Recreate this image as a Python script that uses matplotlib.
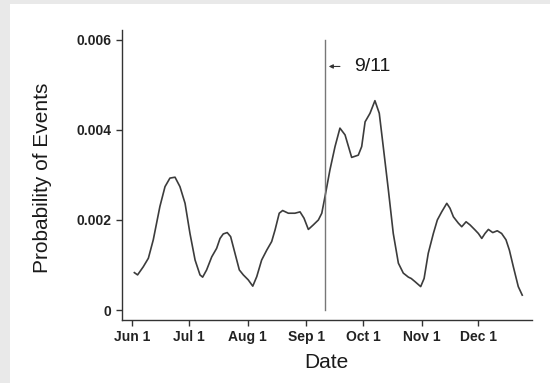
import matplotlib
matplotlib.use("Agg")
import matplotlib.pyplot as plt
from matplotlib.patches import Rectangle

plt.rcParams['font.family'] = ['Liberation Sans', 'DejaVu Sans']

# Days since June 1 (2001)
days = [1.1, 2.8, 5.8, 8.5, 11.1, 14.6, 17.3, 19.9, 22.6, 25.2, 27.9, 30.5, 33.2, 35.8,
        37.2, 39.3, 42.0, 44.6, 46.4, 48.1, 50.2, 52.0, 54.3, 56.6, 58.7, 61.3, 63.7,
        65.8, 68.4, 71.1, 73.7, 75.5, 77.7, 79.5, 82.5, 86.0, 88.7, 90.8, 93.1, 95.7,
        98.4, 100.2, 101.9, 104.5, 107.2, 109.8, 112.5, 116.0, 119.5, 121.3, 123.1,
        125.7, 128.3, 130.6, 132.7, 135.4, 138.0, 140.7, 143.3, 146.0, 147.5, 149.5,
        152.5, 154.3, 156.5, 159.2, 161.3, 163.6, 166.3, 168.0, 169.8, 172.4, 174.2,
        176.5, 178.6, 181.2, 183.0, 184.8, 186.5, 188.3, 190.6, 193.0, 195.3, 197.6,
        199.4, 201.5, 204.1, 206.2]
prob = [0.00083, 0.00078, 0.00096, 0.00115, 0.00156, 0.00230, 0.00274, 0.00293, 0.00295,
        0.00274, 0.00237, 0.00170, 0.00111, 0.00078, 0.00073, 0.00089, 0.00118, 0.00137,
        0.00159, 0.00169, 0.00172, 0.00163, 0.00126, 0.00089, 0.00078, 0.00067, 0.00053,
        0.00074, 0.00111, 0.00133, 0.00152, 0.00178, 0.00215, 0.00221, 0.00215, 0.00215,
        0.00218, 0.00204, 0.00179, 0.00189, 0.00200, 0.00215, 0.00252, 0.00311, 0.00363,
        0.00404, 0.00389, 0.00339, 0.00344, 0.00363, 0.00418, 0.00437, 0.00465, 0.00437,
        0.00363, 0.00267, 0.00170, 0.00104, 0.00082, 0.00073, 0.00070, 0.00063, 0.00052,
        0.00070, 0.00126, 0.00170, 0.00200, 0.00218, 0.00237, 0.00226, 0.00207, 0.00193,
        0.00185, 0.00196, 0.00189, 0.00178, 0.00170, 0.00159, 0.00170, 0.00179, 0.00172,
        0.00176, 0.00170, 0.00156, 0.00133, 0.00096, 0.00052, 0.00033]

month_ticks = [0, 30, 61, 92, 122, 153, 183]
month_labels = ["Jun 1", "Jul 1", "Aug 1", "Sep 1", "Oct 1", "Nov 1", "Dec 1"]
y_ticks = [0, 0.002, 0.004, 0.006]
y_labels = ["0", "0.002", "0.004", "0.006"]
event_day = 102
event_label = "9/11"

fig = plt.figure(figsize=(5.5, 3.83), dpi=100)
fig.patch.set_facecolor('#e9e9e9')
fig.add_artist(Rectangle((10/550, 0), 1, 1 - 4/383, transform=fig.transFigure,
                         facecolor='white', edgecolor='none', zorder=-10))

ax = fig.add_axes([121.7/550, 1 - 320/383, 410/550, 290/383])
ax.patch.set_alpha(0)

ax.plot(days, prob, color='#3c3c3c', lw=1.2, solid_joinstyle='round')
ax.plot([event_day, event_day], [0, 0.006], color='#777777', lw=1.0)

ax.annotate('', xy=(103.9, 0.00541), xytext=(109.8, 0.00541),
            arrowprops=dict(arrowstyle='-|>', lw=0.8, color='#333333',
                            mutation_scale=6, shrinkA=0, shrinkB=0))
ax.text(117.2, 0.00541, event_label, ha='left', va='center', fontsize=14, color='#1a1a1a')

ax.set_xlim(-5.6, 211.2)
ax.set_ylim(-0.000222, 0.00622)
ax.set_xticks(month_ticks)
ax.set_xticklabels(month_labels, fontsize=10, fontweight='bold')
ax.set_yticks(y_ticks)
ax.set_yticklabels(y_labels, fontsize=10, fontweight='bold')
for s in ['top', 'right']:
    ax.spines[s].set_visible(False)
for s in ['left', 'bottom']:
    ax.spines[s].set_color('#333333')
    ax.spines[s].set_linewidth(1.0)
ax.tick_params(axis='both', length=4.5, width=1.0, color='#333333', labelcolor='#222222', pad=3)

fig.text(43/550, 1 - 178/383, "Probability of Events", rotation=90, ha='center', va='center',
         fontsize=15, color='#1a1a1a')
fig.text(326/550, 1 - 363/383, "Date", ha='center', va='center', fontsize=15, color='#1a1a1a')

fig.savefig("out.png", dpi=100, facecolor=fig.get_facecolor())
